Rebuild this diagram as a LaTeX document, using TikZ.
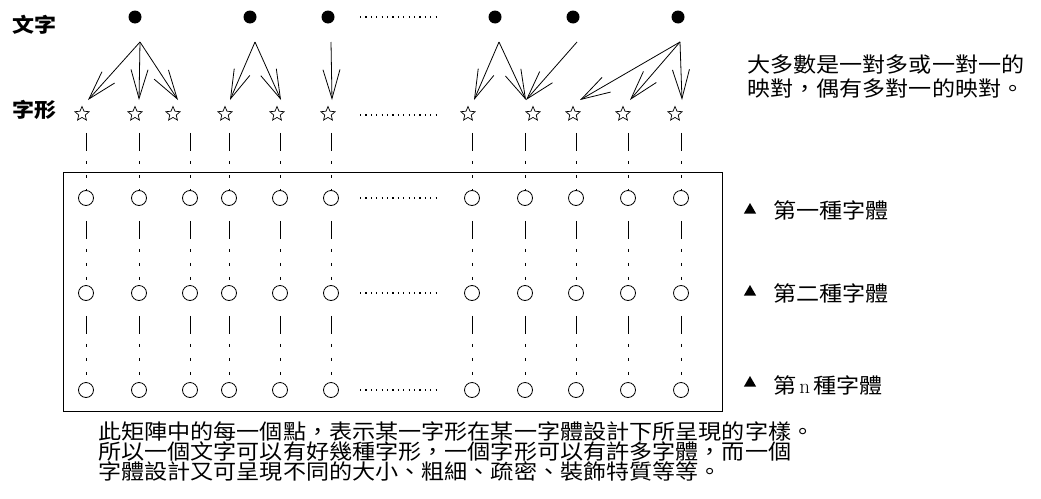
\documentclass[tikz,border=0pt]{standalone}
\usepackage{fontspec}
\newfontfamily\cjk[FakeStretch=1.1]{Noto Sans CJK TC}
\usetikzlibrary{arrows.meta,shapes.geometric}
\begin{document}
\begin{tikzpicture}[x=1pt,y=-1pt,
  bul/.style={circle,fill=black,minimum size=13pt,inner sep=0pt},
  glyph/.style={star,star points=5,star point ratio=2.2,draw,line width=0.7pt,minimum size=15pt,inner sep=0pt},
  cell/.style={circle,draw,line width=0.8pt,minimum size=15pt,inner sep=0pt},
  map/.style={line width=0.8pt,-{Straight Barb[length=29pt,width=17pt]}},
  col/.style={line width=0.8pt,dash pattern=on 0pt off 15pt on 18pt off 10pt on 3pt off 11pt on 3pt off 11pt on 3pt off 40pt},
  ell/.style={line width=1.3pt,dash pattern=on 1.2pt off 4.2pt},
  lab/.style={font=\cjk\fontsize{21pt}{23.5pt}\selectfont,anchor=west,inner sep=0pt},
  head/.style={font=\cjk\bfseries\fontsize{20pt}{22pt}\selectfont,anchor=west,inner sep=0pt},
  tri/.style={regular polygon,regular polygon sides=3,fill=black,minimum size=14pt,inner sep=0pt}
]
\useasboundingbox (0,0) rectangle (1041,498);

% labels
\node[head] (wenzi) at (12,25) {文字};
\node[head] (zixing) at (12,110) {字形};

% characters (bullets)
\node[bul] (b1) at (135,17) {};
\node[bul] (b2) at (250,17) {};
\node[bul] (b3) at (328,17) {};
\node[bul] (b4) at (495,17) {};
\node[bul] (b5) at (573,17) {};
\node[bul] (b6) at (678,17) {};

% frame
\node[draw,line width=0.9pt,minimum width=659pt,minimum height=239pt,anchor=north west,inner sep=0pt] (frame) at (63,172) {};

% glyphs, cells, column lines
\foreach \i/\sx/\cx in {1/82/86,2/135/139,3/173/190,4/225/229,5/277/280,6/328/331,7/468/472,8/533/525,9/573/576,10/623/628,11/675/681}{
  \node[glyph] (s\i) at (\sx,114) {};
  \node[cell] (a\i) at (\cx,198) {};
  \node[cell] (m\i) at (\cx,293) {};
  \node[cell] (z\i) at (\cx,390) {};
  \draw[col] (s\i.south -| a\i.north) -- (a\i.north);
  \draw[col] (a\i.south) -- (m\i.north);
  \draw[col] (m\i.south) -- (z\i.north);
}

% ellipses
\draw[ell] (360,17) -- (437,17);
\draw[ell] (360,115) -- (437,115);
\draw[ell] (360,198) -- (437,198);
\draw[ell] (360,293) -- (437,293);
\draw[ell] (360,390) -- (437,390);

% arrow end coordinates
\coordinate (o1) at (140,42);
\coordinate (o2) at (255,42);
\coordinate (o3) at (331,42);
\coordinate (o4) at (499,42);
\coordinate (o5) at (577,42);
\coordinate (o6) at (680,42);
\coordinate (t1) at (88,100);
\coordinate (t2) at (139,100);
\coordinate (t3) at (178,100);
\coordinate (t4) at (230,100);
\coordinate (t5) at (281,100);
\coordinate (t6) at (332,100);
\coordinate (t7) at (474,100);
\coordinate (t8) at (526,100);
\coordinate (t9) at (580,100);
\coordinate (t10) at (630,100);
\coordinate (t11) at (682,100);

\draw[map] (o1) -- (t1);
\draw[map] (o1) -- (t2);
\draw[map] (o1) -- (t3);
\draw[map] (o2) -- (t4);
\draw[map] (o2) -- (t5);
\draw[map] (o3) -- (t6);
\draw[map] (o4) -- (t7);
\draw[map] (o4) -- (t8);
\draw[map] (o5) -- (t8);
\draw[map] (o6) -- (t9);
\draw[map] (o6) -- (t10);
\draw[map] (o6) -- (t11);

% right notes
\node[lab,align=left] (note) at (747,76.5) {大多數是一對多或一對一的\\映對，偶有多對一的映對。};

\node[tri] (tr1) at (750,210) {};
\node[lab] (f1) at (773,210) {第一種字體};
\node[tri] (tr2) at (750,292) {};
\node[lab] (f2) at (773,293) {第二種字體};
\node[tri] (tr3) at (750,383) {};
\node[lab] (f3) at (773,385) {第\hspace{3pt}{\rmfamily n}\hspace{3pt}種字體};

% bottom text
\node[lab,align=left,font=\cjk\fontsize{21pt}{20pt}\selectfont] (expl) at (98,452) {此矩陣中的每一個點，表示某一字形在某一字體設計下所呈現的字樣。\\所以一個文字可以有好幾種字形，一個字形可以有許多字體，而一個\\字體設計又可呈現不同的大小、粗細、疏密、裝飾特質等等。};
\end{tikzpicture}
\end{document}
